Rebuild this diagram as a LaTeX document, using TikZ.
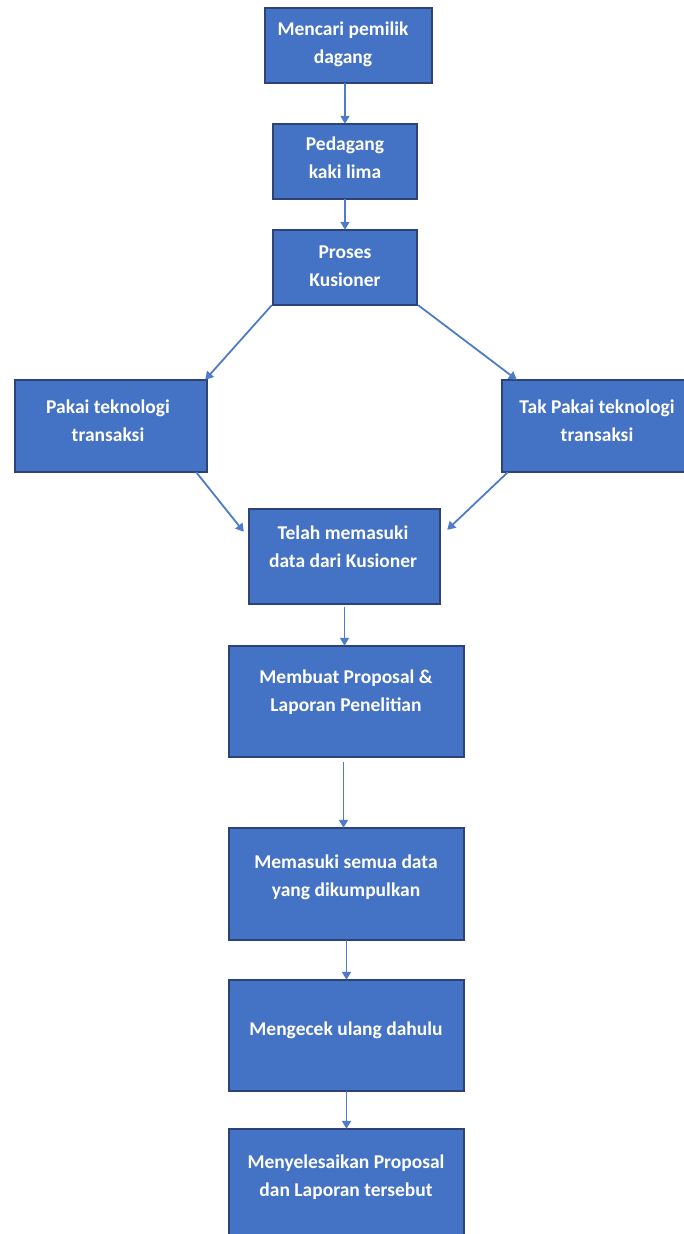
\documentclass[tikz,border=0pt]{standalone}
\usepackage{fontspec}
\setmainfont{Carlito}
\usetikzlibrary{arrows.meta}
\definecolor{boxfill}{HTML}{4472C4}
\definecolor{boxline}{HTML}{2B4475}
\definecolor{arrcol}{HTML}{4F7BCB}
\tikzset{
  x=1pt, y=-1pt,
  box/.style={draw=boxline, fill=boxfill, line width=2pt, rectangle, inner sep=0pt},
  txt/.style={text=white, font=\fontsize{19.5}{28}\selectfont\bfseries, align=center, inner sep=0pt},
  arr/.style={draw=arrcol, line width=1.8pt, -{Triangle[width=9pt,length=8pt]}}
}
\newcommand{\boxat}[5]{% name, x1, y1, x2, y2
  \path[box] (#2,#3) rectangle (#4,#5);
  \path (#2,#3) rectangle (#4,#5) node[pos=0.5, inner sep=0pt, minimum width=#4pt-#2pt, minimum height=#5pt-#3pt] (#1) {};
}
\begin{document}
\begin{tikzpicture}
\clip (0,0) rectangle (684,1234);
\fill[white] (0,0) rectangle (684,1234);
% boxes
\boxat{b1}{265}{8}{432}{83}
\boxat{b2}{273}{124}{417}{199}
\boxat{b3}{273}{230}{417}{305}
\boxat{bL}{15}{380}{207}{472}
\boxat{bR}{502}{380}{700}{472}
\boxat{b4}{249}{509}{440}{604}
\boxat{b5}{229}{646}{464}{757}
\boxat{b6}{229}{828}{464}{940}
\boxat{b7}{229}{980}{464}{1091}
\boxat{b8}{229}{1129}{464}{1245}
% texts
\node[txt] (t1) at (343,44) {Mencari pemilik\\dagang};
\node[txt] (t2) at (345,158) {Pedagang\\kaki lima};
\node[txt] (t3) at (345,266) {Proses\\Kusioner};
\node[txt] (tL) at (108,421) {Pakai teknologi\\transaksi};
\node[txt] (tR) at (597,421) {Tak Pakai teknologi\\transaksi};
\node[txt] (t4) at (343,547) {Telah memasuki\\data dari Kusioner};
\node[txt] (t5) at (346,692) {Membuat Proposal \&\\Laporan Penelitian};
\node[txt] (t6) at (346,877) {Memasuki semua data\\yang dikumpulkan};
\node[txt] (t7) at (346,1030) {Mengecek ulang dahulu};
\node[txt] (t8) at (346,1177) {Menyelesaikan Proposal\\dan Laporan tersebut};
% connectors
\draw[arr] (b1.south -| b2.north) -- (b2.north);
\draw[arr] (b2.south) -- (b3.north);
\draw[arr] ([xshift=-1pt]b3.south west) -- ([xshift=-2pt]bL.north east);
\draw[arr] ([xshift=1pt]b3.south east) -- ([xshift=15pt]bR.north west);
\draw[arr] ([xshift=-11pt]bL.south east) -- ([xshift=-5pt,yshift=-23pt]b4.north west);
\draw[arr] ([xshift=6pt]bR.south west) -- ([xshift=7pt,yshift=-21pt]b4.north east);
\draw[arr] ([yshift=-3pt]b4.south) -- (b4.south |- b5.north);
\draw[arr] ([xshift=-3pt,yshift=-5pt]b5.south) -- ([xshift=-3pt]b6.north);
\draw[arr] (b6.south) -- (b7.north);
\draw[arr] (b7.south) -- (b8.north);
\end{tikzpicture}
\end{document}
